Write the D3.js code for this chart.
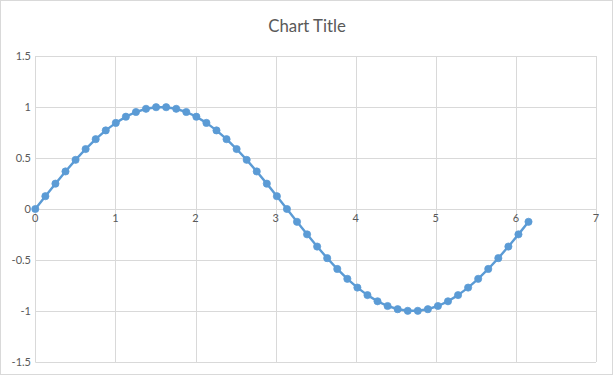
<!DOCTYPE html>
<html><head><meta charset="utf-8">
<script src="https://cdn.jsdelivr.net/npm/d3@7"></script>
<style>html,body{margin:0;padding:0;background:#fff;}svg{display:block;font-family:Lato,"Open Sans",sans-serif;}</style>
</head><body>
<script>
const title = "Chart Title";
const xValues = [0,0.1257,0.2513,0.3770,0.5027,0.6283,0.7540,0.8796,1.0053,1.1310,1.2566,1.3823,1.5080,1.6336,1.7593,1.8850,2.0106,2.1363,2.2619,2.3876,2.5133,2.6389,2.7646,2.8903,3.0159,3.1416,3.2673,3.3929,3.5186,3.6442,3.7699,3.8956,4.0212,4.1469,4.2726,4.3982,4.5239,4.6496,4.7752,4.9009,5.0265,5.1522,5.2779,5.4035,5.5292,5.6549,5.7805,5.9062,6.0319,6.1575];
const yValues = [0,0.1253,0.2487,0.3681,0.4818,0.5878,0.6845,0.7705,0.8443,0.9048,0.9511,0.9823,0.9980,0.9980,0.9823,0.9511,0.9048,0.8443,0.7705,0.6845,0.5878,0.4818,0.3681,0.2487,0.1253,0,-0.1253,-0.2487,-0.3681,-0.4818,-0.5878,-0.6845,-0.7705,-0.8443,-0.9048,-0.9511,-0.9823,-0.9980,-0.9980,-0.9823,-0.9511,-0.9048,-0.8443,-0.7705,-0.6845,-0.5878,-0.4818,-0.3681,-0.2487,-0.1253];
const xTicks = [0,1,2,3,4,5,6,7];
const yTicks = [-1.5,-1,-0.5,0,0.5,1,1.5];

const W = 613, H = 375;
const svg = d3.select("body").append("svg").attr("width", W).attr("height", H);
svg.append("rect").attr("x",0.5).attr("y",0.5).attr("width",W-1).attr("height",H-1)
  .attr("fill","#fff").attr("stroke","#d9d9d9");

const x = d3.scaleLinear().domain([0,7]).range([35.3,596]);
const y = d3.scaleLinear().domain([-1.5,1.5]).range([362,56]);
const grid = "#d9d9d9", txt = "#595959";

svg.append("text").attr("x",307).attr("y",32).attr("text-anchor","middle")
  .attr("fill",txt).attr("font-size",16.8).text(title);

const g = svg.append("g");
g.selectAll("line.h").data(yTicks).join("line").attr("class","h")
  .attr("x1",x(0)).attr("x2",x(7)).attr("y1",d=>Math.round(y(d))+0.5).attr("y2",d=>Math.round(y(d))+0.5)
  .attr("stroke",grid);
g.selectAll("line.v").data(xTicks).join("line").attr("class","v")
  .attr("y1",y(1.5)).attr("y2",y(-1.5)).attr("x1",d=>Math.round(x(d))+0.5).attr("x2",d=>Math.round(x(d))+0.5)
  .attr("stroke",grid);

const fmt = d => String(d);
g.selectAll("text.yl").data(yTicks).join("text").attr("class","yl")
  .attr("x",31).attr("y",d=>y(d)).attr("dy","0.35em").attr("text-anchor","end")
  .attr("fill",txt).attr("font-size",11).text(fmt);
g.selectAll("text.xl").data(xTicks).join("text").attr("class","xl")
  .attr("x",d=>x(d)).attr("y",y(0)+13).attr("text-anchor","middle")
  .attr("fill",txt).attr("font-size",11).text(fmt);

const pts = xValues.map((v,i)=>[v,yValues[i]]);
const color = "#5b9bd5";
svg.append("path").datum(pts).attr("fill","none").attr("stroke",color).attr("stroke-width",2.4)
  .attr("stroke-linejoin","round")
  .attr("d", d3.line().x(d=>x(d[0])).y(d=>y(d[1])));
svg.selectAll("circle").data(pts).join("circle")
  .attr("cx",d=>x(d[0])).attr("cy",d=>y(d[1])).attr("r",3.6)
  .attr("fill",color).attr("stroke",color).attr("stroke-width",0.75);
</script>
</body></html>
